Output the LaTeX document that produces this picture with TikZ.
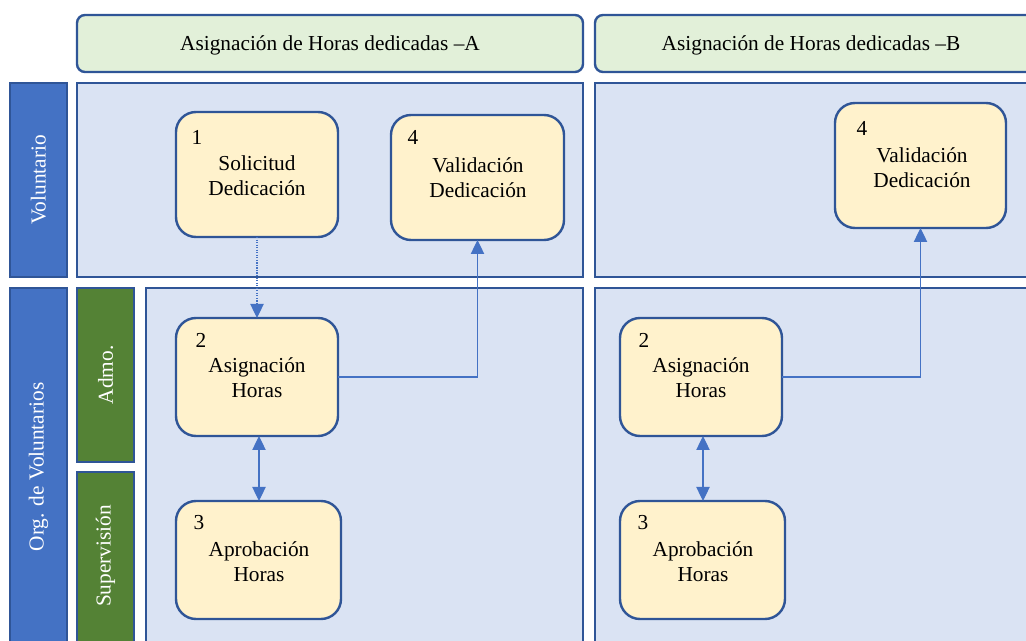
\documentclass[tikz,border=0pt]{standalone}
\usepackage{fontspec}
\setmainfont{Liberation Serif}
\usetikzlibrary{fit,arrows.meta}
\definecolor{laneblue}{HTML}{4472C4}
\definecolor{edgeblue}{HTML}{2F5597}
\definecolor{rowfill}{HTML}{DAE3F3}
\definecolor{headfill}{HTML}{E2F0D9}
\definecolor{subgreen}{HTML}{548235}
\definecolor{taskfill}{HTML}{FFF2CC}
\begin{document}
\begin{tikzpicture}[x=0.75pt,y=-0.75pt,
  font=\fontsize{16}{19}\selectfont,
  region/.style={draw=edgeblue,line width=1.8pt,inner sep=0pt,outer sep=0pt},
  header/.style={region,fill=headfill,rounded corners=6pt},
  row/.style={region,fill=rowfill},
  lane/.style={region,fill=laneblue},
  sublane/.style={region,fill=subgreen},
  lanetext/.style={text=white,rotate=90},
  task/.style={draw=edgeblue,line width=1.8pt,fill=taskfill,rounded corners=15pt,inner sep=0pt,outer sep=0pt},
  tasknum/.style={anchor=center,inner sep=0pt},
  tasktext/.style={align=center,inner sep=0pt},
  flow/.style={draw=laneblue,line width=0.9pt},
  tip/.style={-{Triangle[length=10.5pt,width=10pt]}},
  twotip/.style={{Triangle[length=10.5pt,width=10pt]}-{Triangle[length=10.5pt,width=10pt]}}]
\useasboundingbox (0,0) rectangle (1026,641);
\clip (0,0) rectangle (1026,641);

% column headers
\node[header,fit={(77,15) (583,72)}] (hA) {};
\node at (330,45) (hAt) {Asignación de Horas dedicadas –A};
\node[header,fit={(595,15) (1045,72)}] (hB) {};
\node at (811,45) (hBt) {Asignación de Horas dedicadas –B};

% lane labels
\node[lane,fit={(10,83) (67,277)}] (lV) {};
\node[lanetext] at (lV.center) (lVt) {Voluntario};
\node[lane,fit={(10,288) (67,660)}] (lO) {};
\node[lanetext] at (38.5,467) (lOt) {Org. de Voluntarios};
\node[sublane,fit={(77,288) (134,462)}] (lAd) {};
\node[lanetext] at (lAd.center) (lAdt) {Admo.};
\node[sublane,fit={(77,472) (134,660)}] (lSu) {};
\node[lanetext] at (105.5,556) (lSut) {Supervisión};

% lane rows
\node[row,fit={(77,83) (583,277)}] (rVA) {};
\node[row,fit={(595,83) (1045,277)}] (rVB) {};
\node[row,fit={(146,288) (583,660)}] (rOA) {};
\node[row,fit={(595,288) (1045,660)}] (rOB) {};

% tasks, column A
\node[task,fit={(176,112) (338,237)}] (t1) {};
\node[tasknum] at (197,137) (t1n) {1};
\node[tasktext] at (257,175.5) (t1t) {Solicitud\\Dedicación};

\node[task,fit={(391,115) (564,240)}] (t4a) {};
\node[tasknum] at (413,137) (t4an) {4};
\node[tasktext] at (478,177.5) (t4at) {Validación\\Dedicación};

\node[task,fit={(176,318) (338,436)}] (t2a) {};
\node[tasknum] at (201,340) (t2an) {2};
\node[tasktext] at (257,377.5) (t2at) {Asignación\\Horas};

\node[task,fit={(176,501) (341,619)}] (t3a) {};
\node[tasknum] at (199,523) (t3an) {3};
\node[tasktext] at (259,561.5) (t3at) {Aprobación\\Horas};

% tasks, column B
\node[task,fit={(835,103) (1006,228)}] (t4b) {};
\node[tasknum] at (862,128) (t4bn) {4};
\node[tasktext] at (922,167.5) (t4bt) {Validación\\Dedicación};

\node[task,fit={(620,318) (782,436)}] (t2b) {};
\node[tasknum] at (644,340) (t2bn) {2};
\node[tasktext] at (701,377.5) (t2bt) {Asignación\\Horas};

\node[task,fit={(620,501) (785,619)}] (t3b) {};
\node[tasknum] at (643,523) (t3bn) {3};
\node[tasktext] at (703,561.5) (t3bt) {Aprobación\\Horas};

% flows
\draw[flow,densely dotted,tip] (t1.south) -- (t1.south |- t2a.north);
\draw[flow,tip] (t2a.east) -| (t4a.south);
\draw[flow,twotip] (t2a.south -| 259,0) -- (t3a.north -| 259,0);
\draw[flow,tip] (t2b.east) -| (t4b.south);
\draw[flow,twotip] (t2b.south -| 703,0) -- (t3b.north -| 703,0);
\end{tikzpicture}
\end{document}
